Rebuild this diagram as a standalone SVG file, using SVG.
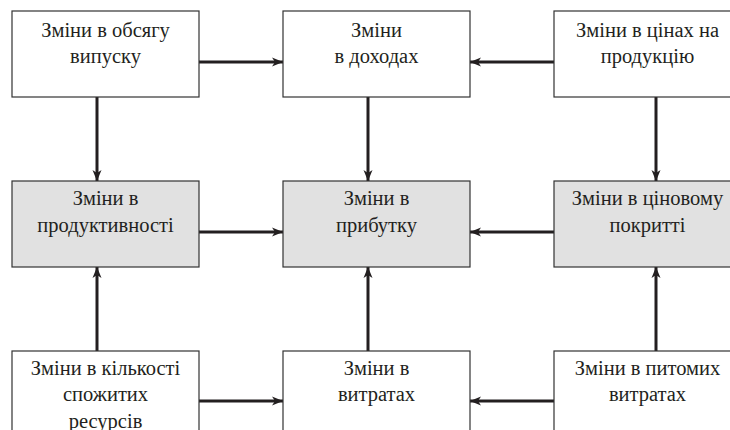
<svg xmlns="http://www.w3.org/2000/svg" width="730" height="430" viewBox="0 0 730 430">
<style>
.box{fill:#ffffff;stroke:#333333;stroke-width:1.2}
.grey{fill:#e1e1e1}
.t{font-family:"Liberation Serif","Times New Roman","DejaVu Serif",serif;font-size:20.5px;fill:#231f20;text-anchor:middle}
.ca{stroke:#231f20;stroke-width:3;fill:none;marker-end:url(#ah)}
</style>
<defs>
<marker id="ah" markerUnits="userSpaceOnUse" markerWidth="12" markerHeight="10" refX="11" refY="4.5" orient="auto" viewBox="0 0 12 9">
<path d="M0,0 L11,4.5 L0,9 L3,4.5 Z" fill="#231f20"/>
</marker>
</defs>
<rect width="730" height="430" fill="#ffffff"/>
<g id="connectors">
<line class="ca" x1="199" y1="62" x2="283" y2="62"/>
<line class="ca" x1="554" y1="62" x2="470" y2="62"/>
<line class="ca" x1="97" y1="97" x2="97" y2="181"/>
<line class="ca" x1="368" y1="97" x2="368" y2="181"/>
<line class="ca" x1="656" y1="97" x2="656" y2="181"/>
<line class="ca" x1="199" y1="232" x2="283" y2="232"/>
<line class="ca" x1="554" y1="232" x2="470" y2="232"/>
<line class="ca" x1="97" y1="351" x2="97" y2="267"/>
<line class="ca" x1="368" y1="351" x2="368" y2="267"/>
<line class="ca" x1="656" y1="351" x2="656" y2="267"/>
<line class="ca" x1="199" y1="401" x2="283" y2="401"/>
<line class="ca" x1="554" y1="401" x2="470" y2="401"/>
</g>
<g id="n1"><rect class="box" x="12" y="11" width="187" height="86"/><text class="t" x="105.5" y="37">Зміни в обсягу</text><text class="t" x="105.5" y="62.5">випуску</text></g>
<g id="n2"><rect class="box" x="283" y="11" width="187" height="86"/><text class="t" x="376.5" y="37">Зміни</text><text class="t" x="376.5" y="62.5">в доходах</text></g>
<g id="n3"><rect class="box" x="554" y="11" width="187" height="86"/><text class="t" x="647.5" y="37">Зміни в цінах на</text><text class="t" x="647.5" y="62.5">продукцію</text></g>
<g id="n4"><rect class="box grey" x="12" y="181" width="187" height="86"/><text class="t" x="105.5" y="205">Зміни в</text><text class="t" x="105.5" y="231.5">продуктивності</text></g>
<g id="n5"><rect class="box grey" x="283" y="181" width="187" height="86"/><text class="t" x="376.5" y="205">Зміни в</text><text class="t" x="376.5" y="231.5">прибутку</text></g>
<g id="n6"><rect class="box grey" x="554" y="181" width="187" height="86"/><text class="t" x="647.5" y="205">Зміни в ціновому</text><text class="t" x="647.5" y="231.5">покритті</text></g>
<g id="n7"><rect class="box" x="12" y="351" width="187" height="86"/><text class="t" x="105.5" y="374.5">Зміни в кількості</text><text class="t" x="105.5" y="401">спожитих</text><text class="t" x="105.5" y="427.5">ресурсів</text></g>
<g id="n8"><rect class="box" x="283" y="351" width="187" height="86"/><text class="t" x="376.5" y="374.5">Зміни в</text><text class="t" x="376.5" y="401">витратах</text></g>
<g id="n9"><rect class="box" x="554" y="351" width="187" height="86"/><text class="t" x="647.5" y="374.5">Зміни в питомих</text><text class="t" x="647.5" y="401">витратах</text></g>
</svg>
